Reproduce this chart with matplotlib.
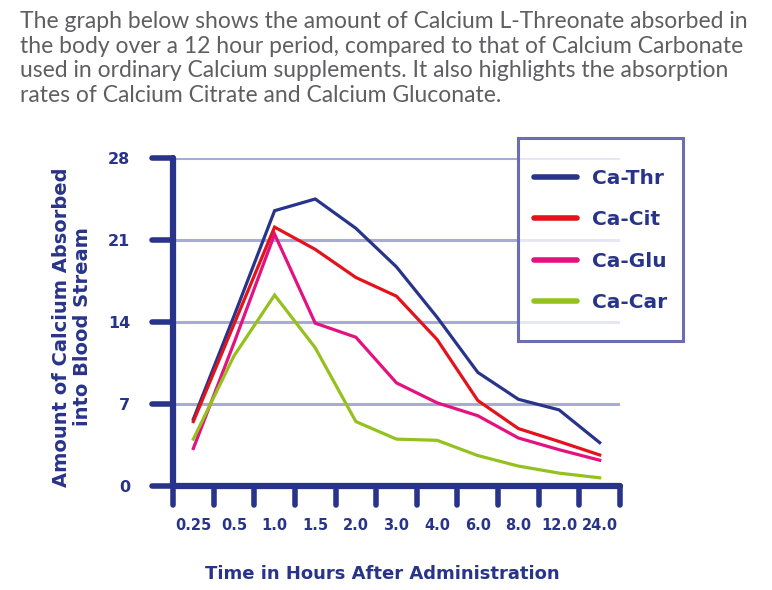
import matplotlib
matplotlib.use("Agg")
import matplotlib.pyplot as plt
from matplotlib.ticker import FixedLocator, NullFormatter
from matplotlib.markers import MarkerStyle, TICKLEFT, TICKDOWN
from matplotlib.patches import Rectangle
import numpy as np

# hours after administration (categorical, equally spaced)
times = ["0.25", "0.5", "1.0", "1.5", "2.0", "3.0", "4.0", "6.0", "8.0", "12.0", "24.0"]

# amount absorbed
ca_thr = [5.7, 14.5, 23.5, 24.5, 22.0, 18.7, 14.4, 9.7, 7.4, 6.5, 3.7]
ca_cit = [5.5, 13.8, 22.1, 20.2, 17.8, 16.2, 12.5, 7.3, 4.9, 3.8, 2.65]
ca_glu = [3.2, 12.2, 21.5, 13.9, 12.7, 8.8, 7.1, 6.0, 4.1, 3.1, 2.2]
ca_car = [4.0, 11.1, 16.3, 11.8, 5.5, 4.0, 3.9, 2.6, 1.7, 1.1, 0.7]

series_names = ["Ca-Thr", "Ca-Cit", "Ca-Glu", "Ca-Car"]
y_ticks = [0, 7, 14, 21, 28]

NAVY = "#28348a"
GRID = "#aaaad6"
colors = ["#28348a", "#e3121b", "#e3127f", "#95c11f"]

title = ("The graph below shows the amount of Calcium L-Threonate absorbed in\n"
         "the body over a 12 hour period, compared to that of Calcium Carbonate\n"
         "used in ordinary Calcium supplements. It also highlights the absorption\n"
         "rates of Calcium Citrate and Calcium Gluconate.")

W, H = 772, 590
fig = plt.figure(figsize=(W / 100, H / 100), dpi=100)
fig.patch.set_facecolor("white")

# axes placed in pixel terms of the reference
x0, x1, y0, y1 = 173, 620, 486, 158
ax = fig.add_axes([x0 / W, 1 - y0 / H, (x1 - x0) / W, (y0 - y1) / H])
ax.set_facecolor("none")

x = np.arange(len(times))
handles = []
for vals, c, name in zip([ca_thr, ca_cit, ca_glu, ca_car], colors, series_names):
    h, = ax.plot(x, vals, color=c, linewidth=2.3, label=name, zorder=3,
                 clip_on=False, solid_joinstyle="miter")
    handles.append(h)

ax.set_xlim(-0.5, len(times) - 0.5)
ax.set_ylim(0, 28)

# horizontal guide lines
for v in y_ticks[1:]:
    ax.axhline(v, color=GRID, linewidth=2.2, zorder=1)

# spines
for s in ["top", "right"]:
    ax.spines[s].set_visible(False)
for s in ["left", "bottom"]:
    ax.spines[s].set_color(NAVY)
    ax.spines[s].set_linewidth(4.5)
    ax.spines[s].set_capstyle("round")
    ax.spines[s].set_zorder(4)

# x: labels at the data points, tick marks between them
ax.set_xticks(x)
ax.set_xticklabels(times)
ax.xaxis.set_minor_locator(FixedLocator(np.arange(-0.5, len(times), 1.0)))
ax.xaxis.set_minor_formatter(NullFormatter())
ax.tick_params(axis="x", which="major", length=0, pad=23, labelsize=10.5,
               labelcolor=NAVY)
ax.tick_params(axis="x", which="minor", length=14, width=4, color=NAVY)

ax.set_yticks(y_ticks)
ax.tick_params(axis="y", which="major", length=15, width=4, color=NAVY,
               pad=16, labelsize=11.5, labelcolor=NAVY)
for lab in ax.get_xticklabels() + ax.get_yticklabels():
    lab.set_fontweight("bold")

# rounded tick ends
for t in ax.yaxis.get_major_ticks():
    t.tick1line.set_marker(MarkerStyle(TICKLEFT, capstyle="round"))
for t in ax.xaxis.get_minor_ticks():
    t.tick1line.set_marker(MarkerStyle(TICKDOWN, capstyle="round"))

# axis titles
fig.text(72 / W, 1 - 327 / H, "Amount of Calcium Absorbed\ninto Blood Stream",
         rotation=90, ha="center", va="center", multialignment="center",
         fontsize=14, fontweight="bold", color=NAVY, linespacing=1.1)
fig.text(382 / W, 1 - 574 / H, "Time in Hours After Administration",
         ha="center", va="center", fontsize=13, fontweight="bold", color=NAVY)

# intro paragraph
fig.text(20 / W, 1 - 11 / H, title, ha="left", va="top", family="Lato",
         fontsize=16.5, color="#5f5f62", linespacing=1.21)

# legend box
bx0, bx1, by0, by1 = 518, 683, 138, 341
box = Rectangle((bx0 / W, 1 - by1 / H), (bx1 - bx0) / W, (by1 - by0) / H,
                transform=fig.transFigure, facecolor=(1, 1, 1, 0.72),
                edgecolor="#6d6db3", linewidth=2.2, zorder=5)
fig.add_artist(box)

leg = fig.legend(handles, series_names, loc="center",
                 bbox_to_anchor=((bx0 + bx1) / 2 / W, 1 - (by0 + by1 + 2) / 2 / H),
                 bbox_transform=fig.transFigure,
                 borderaxespad=0, borderpad=0, frameon=False,
                 prop={"weight": "bold", "size": 14.5}, labelcolor=NAVY,
                 handlelength=2.1, handletextpad=0.75, labelspacing=1.1)
leg.set_zorder(6)
for line in leg.get_lines():
    line.set_linewidth(4)
    line.set_solid_capstyle("round")

fig.savefig("out.png", dpi=100, facecolor="white")
